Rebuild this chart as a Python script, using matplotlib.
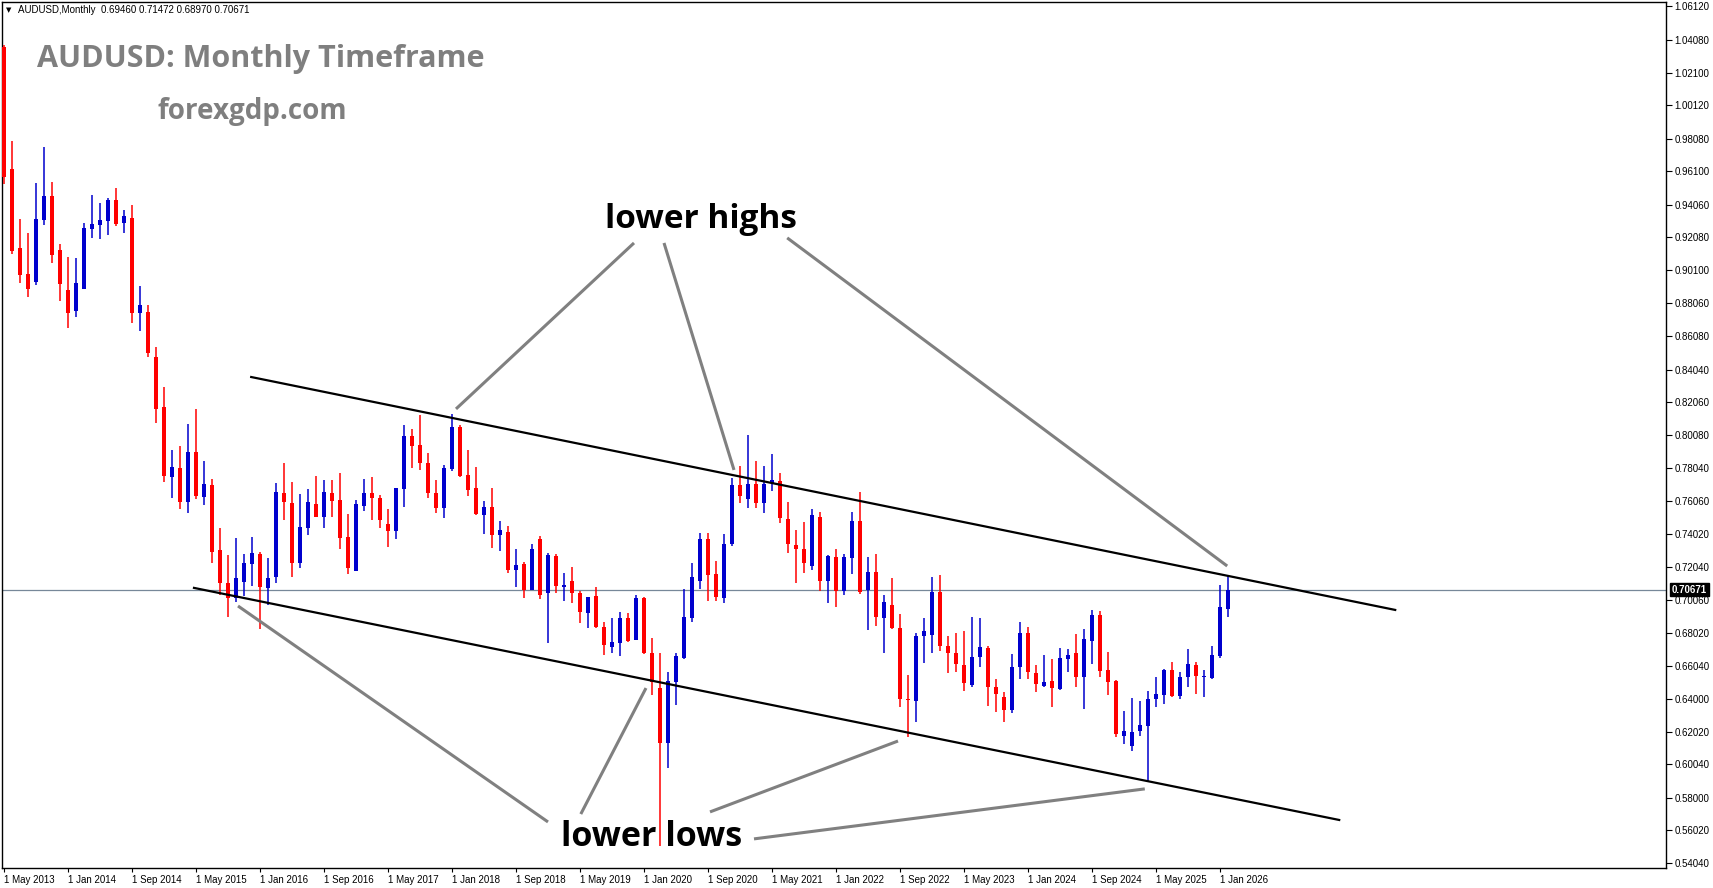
import numpy as np
import matplotlib
matplotlib.use('Agg')
import matplotlib.pyplot as plt
import matplotlib.transforms as mtransforms

# 1. Data: AUDUSD monthly candles, May 2013 .. Feb 2026

opens = [1.0366, 0.9624, 0.9145, 0.8986, 0.8939, 0.9314, 0.9460, 0.9131, 0.8888, 0.8762,
         0.8893, 0.9261, 0.9284, 0.9308, 0.9436, 0.9294, 0.9324, 0.8747, 0.8753, 0.8479,
         0.8175, 0.7749, 0.7804, 0.7601, 0.7903, 0.7628, 0.7703, 0.7307, 0.7109, 0.7014,
         0.7115, 0.7223, 0.7283, 0.7075, 0.7142, 0.7652, 0.7591, 0.7230, 0.7443, 0.7587,
         0.7510, 0.7656, 0.7611, 0.7385, 0.7182, 0.7577, 0.7652, 0.7622, 0.7464, 0.7425,
         0.7677, 0.8001, 0.7946, 0.7835, 0.7652, 0.7561, 0.7800, 0.8057, 0.7763, 0.7686,
         0.7520, 0.7571, 0.7398, 0.7417, 0.7186, 0.7223, 0.7064, 0.7372, 0.7048, 0.7271,
         0.7085, 0.7119, 0.7044, 0.6923, 0.7028, 0.6838, 0.6720, 0.6744, 0.6892, 0.6760,
         0.7014, 0.6683, 0.6467, 0.6132, 0.6507, 0.6653, 0.6896, 0.7121, 0.7374, 0.7162,
         0.7018, 0.7342, 0.7703, 0.7616, 0.7709, 0.7591, 0.7717, 0.7727, 0.7494, 0.7338,
         0.7314, 0.7212, 0.7510, 0.7121, 0.7263, 0.7060, 0.7257, 0.7484, 0.7064, 0.7172,
         0.6896, 0.6973, 0.6835, 0.6400, 0.6391, 0.6784, 0.6790, 0.7050, 0.6724, 0.6679,
         0.6608, 0.6487, 0.6655, 0.6710, 0.6477, 0.6416, 0.6335, 0.6598, 0.6801, 0.6558,
         0.6482, 0.6511, 0.6462, 0.6643, 0.6683, 0.6533, 0.6756, 0.6912, 0.6578, 0.6511,
         0.6177, 0.6118, 0.6209, 0.6239, 0.6400, 0.6426, 0.6578, 0.6422, 0.6537, 0.6608,
         0.6533, 0.6531, 0.6665, 0.69460]
highs = [1.0380, 0.9796, 0.9320, 0.9237, 0.9537, 0.9760, 0.9547, 0.9166, 0.9091, 0.9085,
         0.9298, 0.9466, 0.9415, 0.9450, 0.9507, 0.9375, 0.9405, 0.8913, 0.8797, 0.8544,
         0.8300, 0.7915, 0.7940, 0.8074, 0.8163, 0.7849, 0.7739, 0.7439, 0.7277, 0.7379,
         0.7283, 0.7389, 0.7297, 0.7257, 0.7717, 0.7835, 0.7719, 0.7648, 0.7678, 0.7757,
         0.7733, 0.7733, 0.7774, 0.7527, 0.7611, 0.7739, 0.7749, 0.7640, 0.7555, 0.7686,
         0.8067, 0.8041, 0.8128, 0.7899, 0.7733, 0.7824, 0.8132, 0.8067, 0.7915, 0.7814,
         0.7607, 0.7682, 0.7486, 0.7455, 0.7314, 0.7236, 0.7344, 0.7393, 0.7291, 0.7283,
         0.7170, 0.7206, 0.7060, 0.7024, 0.7081, 0.6872, 0.6892, 0.6932, 0.6926, 0.7034,
         0.7020, 0.6774, 0.6683, 0.6568, 0.6683, 0.7069, 0.7230, 0.7409, 0.7413, 0.7241,
         0.7405, 0.7747, 0.7818, 0.8007, 0.7849, 0.7818, 0.7891, 0.7774, 0.7601, 0.7429,
         0.7480, 0.7557, 0.7540, 0.7277, 0.7312, 0.7283, 0.7540, 0.7662, 0.7267, 0.7283,
         0.7034, 0.7139, 0.6918, 0.6548, 0.6801, 0.6892, 0.7145, 0.7156, 0.6785, 0.6805,
         0.6817, 0.6902, 0.6896, 0.6724, 0.6522, 0.6442, 0.6675, 0.6872, 0.6838, 0.6608,
         0.6669, 0.6645, 0.6713, 0.6705, 0.6797, 0.6825, 0.6943, 0.6937, 0.6689, 0.6520,
         0.6329, 0.6406, 0.6389, 0.6450, 0.6537, 0.6584, 0.6625, 0.6568, 0.6705, 0.6625,
         0.6578, 0.6724, 0.7095, 0.71472]
lows = [0.9533, 0.9107, 0.8933, 0.8848, 0.8919, 0.9284, 0.9051, 0.8823, 0.8659, 0.8726,
        0.8893, 0.9206, 0.9198, 0.9223, 0.9277, 0.9237, 0.8686, 0.8641, 0.8479, 0.8081,
        0.7719, 0.7622, 0.7559, 0.7531, 0.7616, 0.7581, 0.7230, 0.7034, 0.6902, 0.6993,
        0.7028, 0.7088, 0.6825, 0.6973, 0.7105, 0.7490, 0.7142, 0.7196, 0.7398, 0.7506,
        0.7439, 0.7506, 0.7312, 0.7160, 0.7182, 0.7546, 0.7490, 0.7439, 0.7324, 0.7372,
        0.7567, 0.7804, 0.7794, 0.7622, 0.7531, 0.7500, 0.7790, 0.7749, 0.7636, 0.7520,
        0.7404, 0.7318, 0.7303, 0.7170, 0.7081, 0.7018, 0.7064, 0.7010, 0.6740, 0.7048,
        0.6999, 0.6983, 0.6862, 0.6832, 0.6832, 0.6669, 0.6683, 0.6663, 0.6750, 0.6760,
        0.6675, 0.6426, 0.5510, 0.5980, 0.6365, 0.6643, 0.6872, 0.7069, 0.6999, 0.6999,
        0.6987, 0.7334, 0.7591, 0.7561, 0.7561, 0.7531, 0.7668, 0.7474, 0.7288, 0.7105,
        0.7166, 0.7186, 0.7060, 0.6987, 0.6963, 0.7034, 0.7162, 0.7040, 0.6821, 0.6845,
        0.6679, 0.6830, 0.6355, 0.6169, 0.6264, 0.6622, 0.6683, 0.6695, 0.6561, 0.6564,
        0.6452, 0.6476, 0.6594, 0.6361, 0.6324, 0.6264, 0.6315, 0.6522, 0.6522, 0.6442,
        0.6473, 0.6355, 0.6456, 0.6568, 0.6476, 0.6341, 0.6614, 0.6533, 0.6426, 0.6172,
        0.6126, 0.6085, 0.6178, 0.5899, 0.6351, 0.6370, 0.6416, 0.6402, 0.6476, 0.6432,
        0.6416, 0.6525, 0.6653, 0.68970]
closes = [0.9575, 0.9127, 0.8980, 0.8896, 0.9320, 0.9460, 0.9101, 0.8925, 0.8750, 0.8929,
          0.9263, 0.9290, 0.9314, 0.9436, 0.9290, 0.9338, 0.8747, 0.8797, 0.8503, 0.8163,
          0.7759, 0.7810, 0.7601, 0.7903, 0.7638, 0.7709, 0.7297, 0.7109, 0.7014, 0.7135,
          0.7227, 0.7288, 0.7081, 0.7135, 0.7658, 0.7601, 0.7227, 0.7449, 0.7597, 0.7510,
          0.7658, 0.7607, 0.7379, 0.7196, 0.7585, 0.7652, 0.7622, 0.7490, 0.7425, 0.7682,
          0.8001, 0.7942, 0.7835, 0.7652, 0.7561, 0.7804, 0.8057, 0.7757, 0.7672, 0.7527,
          0.7571, 0.7398, 0.7429, 0.7186, 0.7216, 0.7064, 0.7314, 0.7034, 0.7277, 0.7090,
          0.7095, 0.7048, 0.6932, 0.7020, 0.6841, 0.6730, 0.6750, 0.6892, 0.6756, 0.7014,
          0.6683, 0.6507, 0.6132, 0.6511, 0.6663, 0.6902, 0.7145, 0.7374, 0.7156, 0.7024,
          0.7344, 0.7703, 0.7638, 0.7709, 0.7591, 0.7709, 0.7733, 0.7500, 0.7342, 0.7312,
          0.7227, 0.7520, 0.7121, 0.7270, 0.7060, 0.7263, 0.7484, 0.7050, 0.7172, 0.6902,
          0.6990, 0.6835, 0.6400, 0.6396, 0.6785, 0.6815, 0.7050, 0.6725, 0.6679, 0.6613,
          0.6501, 0.6655, 0.6716, 0.6477, 0.6432, 0.6335, 0.6598, 0.6801, 0.6564, 0.6491,
          0.6503, 0.6467, 0.6653, 0.6669, 0.6537, 0.6766, 0.6912, 0.6574, 0.6507, 0.6187,
          0.6207, 0.6199, 0.6244, 0.6402, 0.6432, 0.6578, 0.6422, 0.6537, 0.6614, 0.6543,
          0.6543, 0.6669, 0.6959, 0.70671]

# date axis labels, one every 8 candles
date_labels = ['1 May 2013', '1 Jan 2014', '1 Sep 2014', '1 May 2015', '1 Jan 2016',
               '1 Sep 2016', '1 May 2017', '1 Jan 2018', '1 Sep 2018', '1 May 2019',
               '1 Jan 2020', '1 Sep 2020', '1 May 2021', '1 Jan 2022', '1 Sep 2022',
               '1 May 2023', '1 Jan 2024', '1 Sep 2024', '1 May 2025', '1 Jan 2026']
price_ticks = [1.06120, 1.04080, 1.02100, 1.00120, 0.98080, 0.96100, 0.94060, 0.92080,
               0.90100, 0.88060, 0.86080, 0.84040, 0.82060, 0.80080, 0.78040, 0.76060,
               0.74020, 0.72040, 0.70060, 0.68020, 0.66040, 0.64000, 0.62020, 0.60040,
               0.58000, 0.56020, 0.54040]

# channel lines (candle index, price)
channel_top = [(30.9, 0.8359), (173.9, 0.6943)]
channel_bottom = [(23.75, 0.7077), (166.9, 0.5666)]

# grey pointer lines of the annotations
highs_pointers = [[(78.75, 0.9174), (56.5, 0.8165)],
                  [(82.5, 0.9174), (91.25, 0.7794)],
                  [(97.9, 0.9205), (152.9, 0.7210)]]
lows_pointers = [[(29.25, 0.6967), (68.0, 0.5654)],
                 [(72.1, 0.5702), (80.25, 0.6468)],
                 [(88.25, 0.5715), (111.75, 0.6146)],
                 [(93.75, 0.5551), (142.6, 0.5855)]]
highs_label_at = (87.1, 0.9318)
lows_label_at = (80.9, 0.5560)

##########

# 2. Chart

W, H = 1713, 888
fig = plt.figure(figsize=(W / 100, H / 100), dpi=100)
ax = fig.add_axes([2 / W, 1 - 868 / H, 1664 / W, 866 / H])

o = np.asarray(opens)
h = np.asarray(highs)
l = np.asarray(lows)
c = np.asarray(closes)
x = np.arange(len(o))
col = np.where(c >= o, '#0000CD', '#FF0000')

# candles: wicks then bodies
ax.vlines(x, l, h, colors=col, lw=1.1, zorder=3)
body_low = np.minimum(o, c)
body_h = np.maximum(np.abs(c - o), 0.0007)
ax.bar(x, body_h, bottom=body_low, width=0.62, color=col, lw=0, zorder=4)

# current price line
ax.axhline(c[-1], color='#778899', lw=0.9, zorder=2)

# channel
for line in (channel_top, channel_bottom):
    ax.plot([p[0] for p in line], [p[1] for p in line], color='black', lw=1.6, zorder=5)

# annotations
for seg in highs_pointers + lows_pointers:
    ax.plot([seg[0][0], seg[1][0]], [seg[0][1], seg[1][1]], color='#808080',
            lw=2.2, solid_capstyle='butt', zorder=5)
ax.text(*highs_label_at, 'lower highs', ha='center', va='center', fontsize=24,
        fontweight='bold', family='Open Sans', color='black', zorder=6)
ax.text(*lows_label_at, 'lower lows', ha='center', va='center', fontsize=24.5,
        fontweight='bold', family='Open Sans', color='black', zorder=6)

ax.set_xlim(-0.25, 207.75)
ax.set_ylim(0.5374, 1.0639)

# axes in MT4 style
ax.yaxis.tick_right()
ax.set_yticks(price_ticks)
ax.set_yticklabels([f'{v:.5f}' for v in price_ticks])
ax.set_xticks(np.arange(0, len(o), 8))
ax.set_xticklabels(date_labels, ha='left')
ax.tick_params(axis='y', labelsize=7, length=4, width=0.8, pad=2, direction='out')
ax.tick_params(axis='x', labelsize=7, length=3, width=0.8, pad=2, direction='out')
for lab in ax.get_xticklabels() + ax.get_yticklabels():
    lab.set_family('Liberation Sans')
for s in ax.spines.values():
    s.set_linewidth(1.0)

# current price box on the price scale
tr = mtransforms.blended_transform_factory(ax.transAxes, ax.transData)
ax.text(1.0035, c[-1], f'{c[-1]:.5f}', transform=tr, fontsize=7, color='white',
        family='Liberation Sans', fontweight='bold', va='center', ha='left',
        bbox=dict(facecolor='black', edgecolor='black', pad=1.2), zorder=10, clip_on=False)

# header and titles
fig.text(6 / W, 1 - 10 / H, '\u25bc', fontsize=5, va='center', ha='left')
fig.text(18 / W, 1 - 10 / H, 'AUDUSD,Monthly  0.69460 0.71472 0.68970 0.70671',
         fontsize=7, family='Liberation Sans', va='center', ha='left')
fig.text(37 / W, 1 - 59 / H, 'AUDUSD: Monthly Timeframe', fontsize=22, fontweight='bold',
         family='Open Sans', color='#7f7f7f', va='center', ha='left')
fig.text(157 / W, 1 - 111.5 / H, 'forexgdp.com', fontsize=20, fontweight='bold',
         family='Open Sans', color='#7f7f7f', va='center', ha='left')

fig.savefig('out.png', dpi=100, facecolor='white')
